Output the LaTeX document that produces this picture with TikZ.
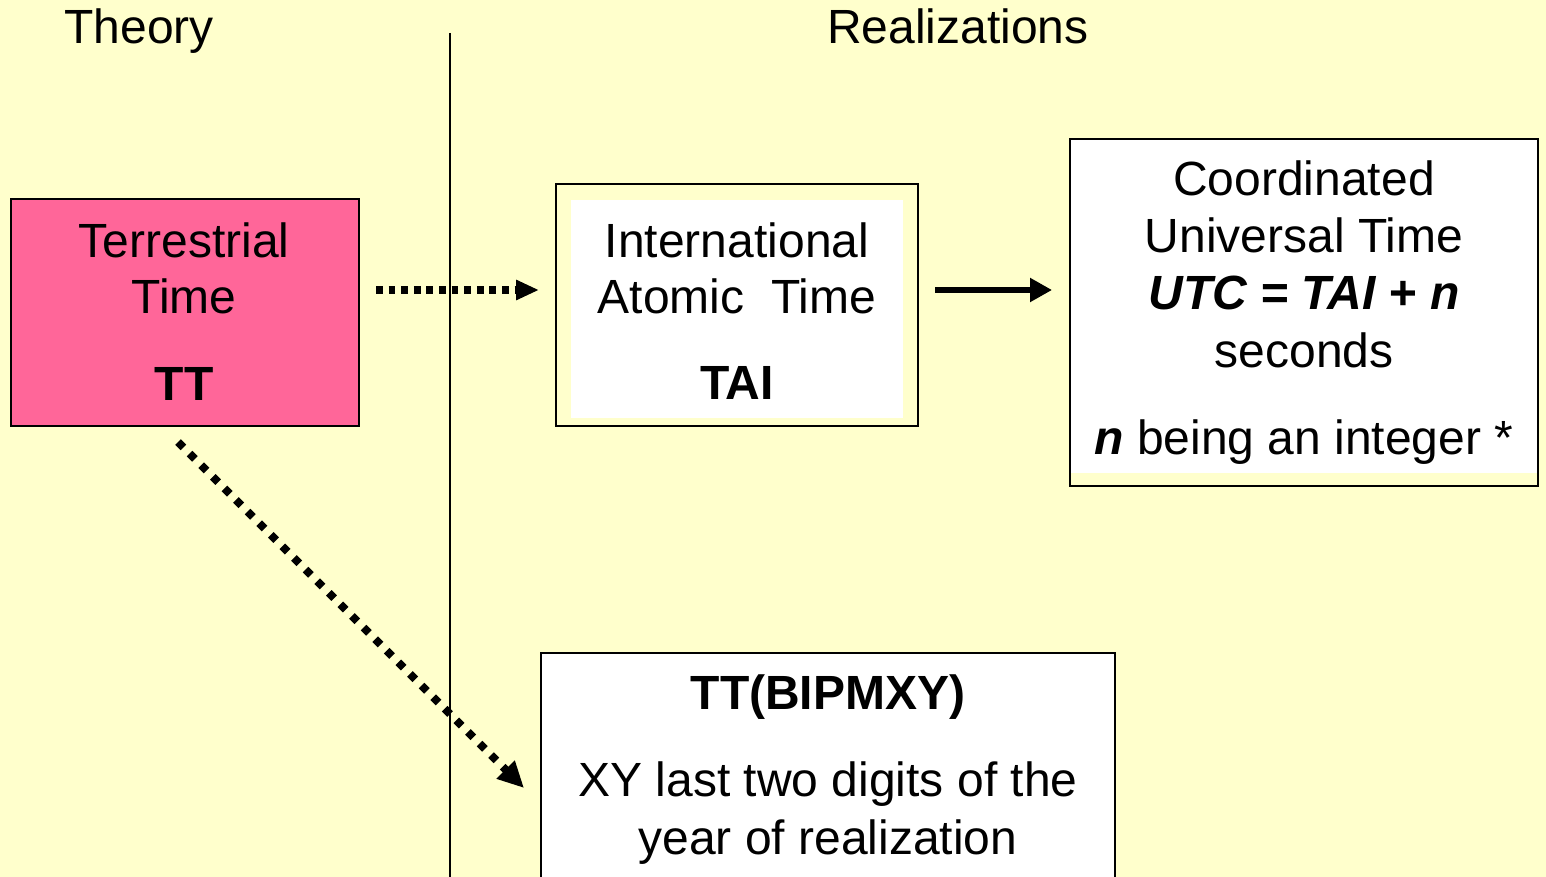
\documentclass[tikz,border=0pt]{standalone}
\usepackage{fontspec}
\setmainfont{Liberation Sans}
\usetikzlibrary{arrows.meta}
\definecolor{bg}{HTML}{FFFFCC}
\definecolor{ttpink}{HTML}{FF6699}
\begin{document}
\begin{tikzpicture}[x=0.5pt,y=-0.5pt,
  box/.style={draw=black, line width=1pt, rectangle, inner sep=0pt},
  txt/.style={anchor=base, inner sep=0pt, font=\fontsize{24}{28}\selectfont},
  dotarrow/.style={line width=4pt, dash pattern=on 3.4pt off 2.9pt, -{Triangle[length=11.5pt,width=9.5pt]}},
  diagarrow/.style={line width=3.9pt, dash pattern=on 3.8pt off 4.4pt, -{Triangle[length=13pt,width=12pt]}},
  solidarrow/.style={line width=2.6pt, -{Triangle[length=11pt,width=11.5pt]}}]
\fill[bg] (0,0) rectangle (1546,877);
\useasboundingbox (0,0) rectangle (1546,877);
% headers
\node[txt] (theory) at (139,44) {Theory};
\node[txt] (real) at (958,44) {Realizations};
% divider
\coordinate (divtop) at (450,33);
\coordinate (divbot) at (450,877);
\draw[line width=1pt] (divtop) -- (divbot);
% TT box
\node[box, fill=ttpink, minimum width=174pt, minimum height=113.5pt] (tt) at (185,312.5) {};
\node[txt] (tt1) at (184,257) {Terrestrial};
\node[txt] (tt2) at (184,314) {Time};
\node[txt, font=\fontsize{24}{28}\selectfont\bfseries] (tt3) at (184,400) {TT};
% TAI box
\node[box, fill=bg, minimum width=181pt, minimum height=121pt] (tai) at (737,305) {};
\fill[white] (571,200) rectangle (903,418);
\node[txt] (tai1) at (737,257) {International};
\node[txt] (tai2) at (737,314) {Atomic\ \ Time};
\node[txt, font=\fontsize{24}{28}\selectfont\bfseries] (tai3) at (737,399) {TAI};
% UTC box
\node[box, fill=bg, minimum width=234pt, minimum height=173.5pt] (utc) at (1304,312.5) {};
\fill[white] (1071,140) rectangle (1537,473);
\node[txt] (utc1) at (1304,196) {Coordinated};
\node[txt] (utc2) at (1304,253) {Universal Time};
\node[txt, font=\fontsize{24}{28}\selectfont\bfseries\itshape] (utc3) at (1304,309) {UTC = TAI + n};
\node[txt] (utc4) at (1304,367) {seconds};
\node[txt] (utc5) at (1304,454) {\textbf{\textit{n}} being an integer *};
% bottom box
\node[box, fill=white, minimum width=287pt, minimum height=113.5pt] (bip) at (828,766.5) {};
\node[txt, font=\fontsize{24}{28}\selectfont\bfseries] (bip1) at (828,709) {TT(BIPMXY)};
\node[txt] (bip2) at (828,796) {XY last two digits of the};
\node[txt] (bip3) at (828,854) {year of realization};
% connectors
\draw[dotarrow] ([xshift=8pt,yshift=11.25pt]tt.east) -- ([xshift=-8pt,yshift=7.5pt]tai.west);
\draw[solidarrow] ([xshift=8pt,yshift=7.5pt]tai.east) -- ([xshift=-8.5pt,yshift=11.25pt]utc.west);
\draw[diagarrow] ([xshift=-3.5pt,yshift=-7.5pt]tt.south) -- ([xshift=-8pt,yshift=-10.75pt]bip.west);
\end{tikzpicture}
\end{document}
